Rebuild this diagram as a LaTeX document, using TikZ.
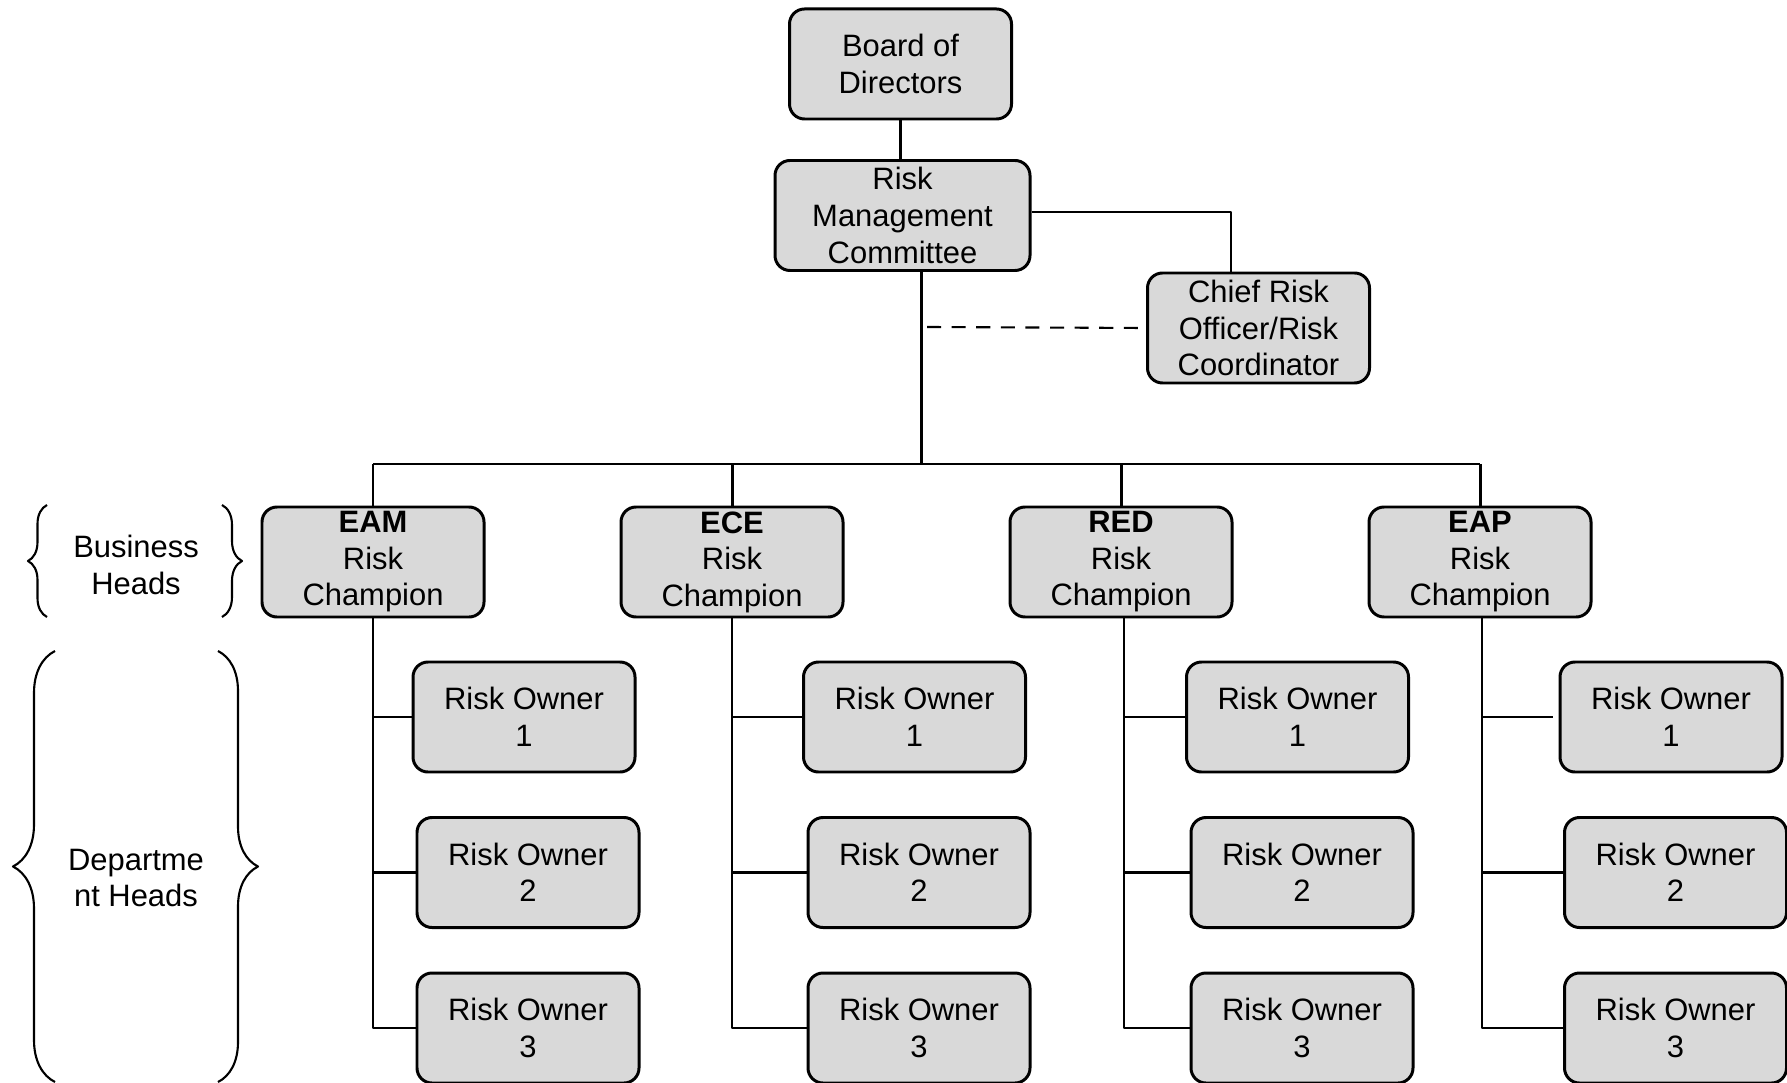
\documentclass[tikz,border=0pt]{standalone}
\usepackage{fontspec}
\setmainfont{Liberation Sans}
\usepackage{tikz}
\usetikzlibrary{calc,decorations.pathreplacing}

\definecolor{boxgray}{HTML}{D9D9D9}

\begin{document}
\begin{tikzpicture}[line join=round,
    unit/.style={draw,line width=0.85pt,rounded corners=0.15cm,fill=boxgray,
        align=center,inner sep=0pt,minimum width=2.22cm,minimum height=1.1cm,
        font=\fontsize{8.8}{10.4}\selectfont},
    trunk/.style={line width=0.85pt},
    twig/.style={line width=0.6pt},
    heads/.style={align=center,font=\fontsize{8.8}{10.4}\selectfont}]
\useasboundingbox (0,0) rectangle (17.87,-10.83);

% top of the chart
\node[unit] (board) at (9.005,-0.64) {Board of\\Directors};
\node[unit,minimum width=2.55cm] (rmc) at (9.025,-2.155) {Risk\\Management\\Committee};
\node[unit] (cro) at (12.585,-3.28) {Chief Risk\\Officer/Risk\\Coordinator};

% risk champions
\node[unit] (eam) at (3.73,-5.62) {\textbf{EAM}\\Risk\\Champion};
\node[unit] (ece) at (7.32,-5.62) {\textbf{ECE}\\Risk\\Champion};
\node[unit] (red) at (11.21,-5.62) {\textbf{RED}\\Risk\\Champion};
\node[unit] (eap) at (14.80,-5.62) {\textbf{EAP}\\Risk\\Champion};

% risk owners
\node[unit] (eam1) at (5.24,-7.17) {Risk Owner\\1};
\node[unit] (eam2) at (5.28,-8.725) {Risk Owner\\2};
\node[unit] (eam3) at (5.28,-10.28) {Risk Owner\\3};
\node[unit] (ece1) at (9.145,-7.17) {Risk Owner\\1};
\node[unit] (ece2) at (9.19,-8.725) {Risk Owner\\2};
\node[unit] (ece3) at (9.19,-10.28) {Risk Owner\\3};
\node[unit] (red1) at (12.975,-7.17) {Risk Owner\\1};
\node[unit] (red2) at (13.02,-8.725) {Risk Owner\\2};
\node[unit] (red3) at (13.02,-10.28) {Risk Owner\\3};
\node[unit] (eap1) at (16.71,-7.17) {Risk Owner\\1};
\node[unit] (eap2) at (16.755,-8.725) {Risk Owner\\2};
\node[unit] (eap3) at (16.755,-10.28) {Risk Owner\\3};

% side labels
\node[heads] (bh) at (1.36,-5.65) {Business\\Heads};
\node[heads] (dh) at (1.36,-8.78) {Departme\\nt Heads};

\coordinate (bus) at (9.21,-4.64);
\coordinate (dot) at (9.27,-3.27);

\draw[trunk] (board.south) -- (board.south |- rmc.north);
\draw[twig] ([yshift=0.35mm]rmc.east) -| ([xshift=-2.75mm]cro.north);
\draw[trunk] (rmc.south -| bus) -- (bus);
\draw[twig,dashed,dash pattern=on 4pt off 3pt] (dot) -- (cro.west);
\draw[trunk] (eam.north |- bus) -- (eap.north |- bus);
\draw[trunk] (eam.north |- bus) -- (eam.north);
\draw[trunk] (ece.north |- bus) -- (ece.north);
\draw[trunk] (red.north |- bus) -- (red.north);
\draw[trunk] (eap.north |- bus) -- (eap.north);

\draw[twig] (eam.south) |- (eam3.west);
\draw[twig] (eam.south |- eam1.west) -- (eam1.west);
\draw[twig] (eam.south |- eam2.west) -- (eam2.west);
\draw[twig] (ece.south) |- (ece3.west);
\draw[twig] (ece.south |- ece1.west) -- (ece1.west);
\draw[twig] (ece.south |- ece2.west) -- (ece2.west);
\draw[twig] ([xshift=0.3mm]red.south) |- (red3.west);
\draw[twig] ([xshift=0.3mm]red.south |- red1.west) -- (red1.west);
\draw[twig] ([xshift=0.3mm]red.south |- red2.west) -- (red2.west);
\draw[twig] ([xshift=0.2mm]eap.south) |- (eap3.west);
\draw[twig] ([xshift=0.2mm]eap.south |- eap1.west) -- ([xshift=-0.6mm]eap1.west);
\draw[twig] ([xshift=0.2mm]eap.south |- eap2.west) -- (eap2.west);

% braces
\draw[line width=0.6pt,decorate,decoration={brace,amplitude=0.19cm}] (0.47,-6.17) -- (0.47,-5.05);
\draw[line width=0.6pt,decorate,decoration={brace,amplitude=0.20cm}] (2.22,-5.05) -- (2.22,-6.17);
\draw[line width=0.6pt,decorate,decoration={brace,amplitude=0.42cm}] (0.55,-10.82) -- (0.55,-6.51);
\draw[line width=0.6pt,decorate,decoration={brace,amplitude=0.40cm}] (2.18,-6.51) -- (2.18,-10.82);
\end{tikzpicture}
\end{document}
